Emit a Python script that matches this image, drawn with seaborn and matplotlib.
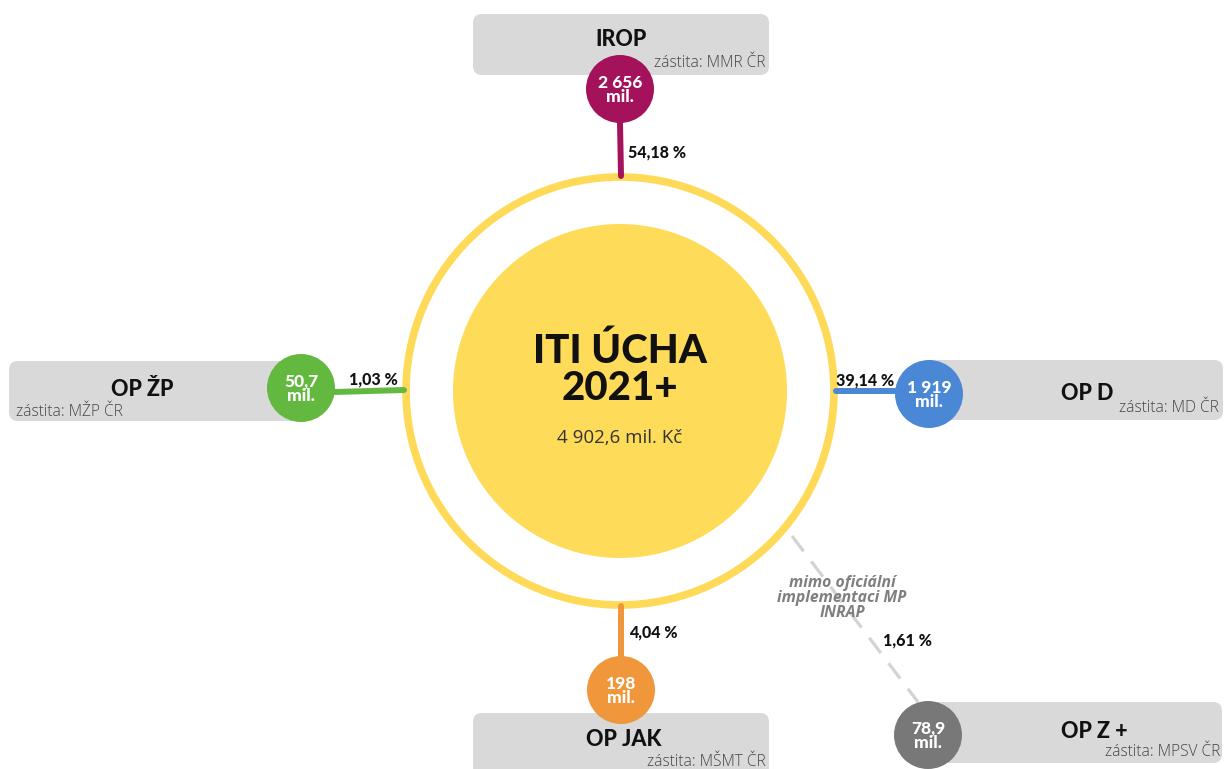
import matplotlib
matplotlib.use("Agg")
import matplotlib.pyplot as plt
from matplotlib.patches import Circle, FancyBboxPatch
import seaborn as sns
import pandas as pd

# ---- data ----
programs = ["IROP", "OP ŽP", "OP D", "OP JAK", "OP Z +"]
amounts = ["2 656", "50,7", "1 919", "198", "78,9"]
shares = ["54,18 %", "1,03 %", "39,14 %", "4,04 %", "1,61 %"]
sponsors = ["zástita: MMR ČR", "zástita: MŽP ČR", "zástita: MD ČR", "zástita: MŠMT ČR", "zástita: MPSV ČR"]
colors = ["#A3125A", "#63B93F", "#4A88D6", "#F0963B", "#787878"]
center_title = "ITI ÚCHA\n2021+"
center_total = "4 902,6 mil. Kč"
note = "mimo oficiální\nimplementaci MP\nINRAP"

# ---- layout (pixel coordinates) ----
W, H = 1224, 769
node_xy = [(620, 89), (301, 388), (929, 394), (621, 690), (928, 735)]
node_r = 34
boxes = [(473, 14, 769, 75), (9, 361, 310, 421), (925, 360, 1223, 420),
         (473, 713, 769, 780), (928, 702, 1222, 763)]
title_pos = [(621, 39, "center"), (142, 389, "center"), (1087, 393, "center"),
             (624, 740, "center"), (1094, 731, "center")]
sponsor_pos = [(766, 63, "right"), (16, 412, "left"), (1219, 408, "right"),
               (766, 762, "right"), (1220, 752, "right")]
lines = [((620, 123), (621, 176)), ((335, 392), (404, 390)), ((836, 391), (895, 391)),
         ((621, 606), (621, 656)), ((792, 536), (918, 702))]
share_pos = [(628, 152, "left"), (373, 379, "center"), (865, 380, "center"),
             (629, 632, "left"), (883, 640, "left")]

sns.set_theme(style="white")
plt.rcParams["font.family"] = ["Lato", "DejaVu Sans"]
SMALL = ["Open Sans", "DejaVu Sans"]

fig = plt.figure(figsize=(W / 100, H / 100), dpi=100)
ax = fig.add_axes([0, 0, 1, 1])

# central circles
cx, cy = 620, 391
ax.add_patch(Circle((cx, cy), 214, facecolor="white", edgecolor="#FFDA58", lw=5.5, zorder=1))
ax.add_patch(Circle((cx, cy), 167, facecolor="#FEDC5A", edgecolor="none", zorder=2))
ax.text(cx, 370, center_title, ha="center", va="center", fontsize=29, fontweight="black",
        color="#111111", linespacing=1.0, zorder=5)
ax.text(cx, 438, center_total, ha="center", va="center", fontsize=13.5, family=SMALL,
        color="#333333", zorder=5)

# boxes
for (x0, y0, x1, y1) in boxes:
    ax.add_patch(FancyBboxPatch((x0, y0), x1 - x0, y1 - y0,
                                boxstyle="round,pad=0,rounding_size=9",
                                facecolor="#D9D9D9", edgecolor="none", zorder=1))

# connectors
for i, ((x0, y0), (x1, y1)) in enumerate(lines):
    if programs[i] == "OP Z +":
        ax.plot([x0, x1], [y0, y1], color="#D3D3D3", lw=2.3, ls=(0, (6, 4)),
                solid_capstyle="round", zorder=2)
    else:
        ax.plot([x0, x1], [y0, y1], color=colors[i], lw=4.3, solid_capstyle="round", zorder=2)

# nodes via seaborn scatter (size in points^2 from pixel radius)
df = pd.DataFrame({"x": [p[0] for p in node_xy], "y": [p[1] for p in node_xy],
                   "program": programs})
s = (2 * node_r * 72 / 100) ** 2
sns.scatterplot(data=df, x="x", y="y", hue="program", palette=dict(zip(programs, colors)),
                s=s, edgecolor="none", legend=False, ax=ax, zorder=3)
ax.set_xlim(0, W)
ax.set_ylim(H, 0)
ax.set_aspect("equal")
ax.axis("off")

for i in range(len(programs)):
    x, y = node_xy[i]
    ax.text(x, y + 1, amounts[i] + "\nmil.", ha="center", va="center", fontsize=12.5,
            fontweight="black", color="white", linespacing=0.85, zorder=6)
    tx, ty, tha = title_pos[i]
    ax.text(tx, ty, programs[i], ha=tha, va="center", fontsize=15.5, fontweight="black",
            color="#111111", zorder=5)
    sx, sy, sha = sponsor_pos[i]
    ax.text(sx, sy, sponsors[i], ha=sha, va="center", fontsize=11.2, fontweight="light",
            family=SMALL, color="#444444", zorder=7)
    px, py, pha = share_pos[i]
    ax.text(px, py, shares[i], ha=pha, va="center", fontsize=11.5, fontweight="black",
            color="#111111", zorder=5)

ax.text(842, 598, note, ha="center", va="center", fontsize=11.3, fontweight="bold",
        fontstyle="italic", family=SMALL, color="#7F7F7F", linespacing=0.92, zorder=5)

fig.savefig("out.png", dpi=100)
